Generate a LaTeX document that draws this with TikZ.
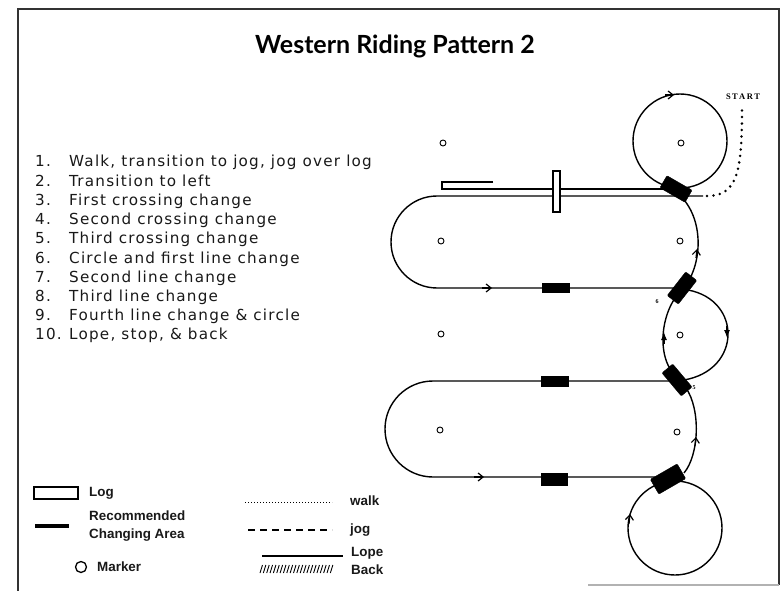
\documentclass[tikz,border=0pt]{standalone}
\usepackage{fontspec}
\setmainfont{DejaVu Sans}
\newfontfamily\listfont[LetterSpace=8]{DejaVu Sans}
\newfontfamily\titlefont{Lato}
\newfontfamily\legfont{Liberation Sans}
\newfontfamily\startfont{Liberation Serif}
\usetikzlibrary{arrows.meta,calc}
\tikzset{
  track/.style={line width=1.4pt, black},
  chbox/.style={fill=black, draw=black, minimum width=#1, minimum height=14pt, inner sep=0pt, rounded corners=1pt},
  flatbox/.style={fill=black, draw=black, minimum width=27pt, minimum height=9pt, inner sep=0pt},
  markr/.style={circle, draw=black, line width=0.9pt, minimum size=6pt, inner sep=0pt},
  vtip/.style={-{Straight Barb[length=5pt,width=8pt,line width=1.2pt]}, line width=1.2pt},
  ftip/.style={-{Latex[length=8pt,width=6pt]}, line width=1.2pt},
  listtext/.style={anchor=base west, font=\listfont\fontsize{15.2}{17}\selectfont, text=black!90, inner sep=0pt},
  legtext/.style={anchor=west, font=\legfont\bfseries\fontsize{13.4}{15}\selectfont, inner sep=0pt, text=black!90}
}
\begin{document}
\begin{tikzpicture}[x=1pt,y=-1pt]
\useasboundingbox (0,0) rectangle (782,591);
\fill[white] (0,0) rectangle (782,591);

% frame
\draw[line width=2pt, black!80] (18,591) -- (18,9) -- (779,9) -- (779,585);
\draw[line width=1.2pt, black!30] (588,585) -- (779,585);

% title
\node[font=\titlefont\bfseries\fontsize{25}{27}\selectfont] (title) at (395,46) {Western Riding Pattern 2};

% list
\foreach \n/\t [count=\i from 0] in {1./{Walk, transition to jog, jog over log},
  2./{Transition to left}, 3./{First crossing change}, 4./{Second crossing change},
  5./{Third crossing change}, 6./{Circle and first line change}, 7./{Second line change},
  8./{Third line change}, 9./{Fourth line change \& circle}, 10./{Lope, stop, \& back}} {
  \node[listtext] (num\i) at (35,{167+19.2*\i}) {\n};
  \node[listtext] (item\i) at (69,{167+19.2*\i}) {\t};
}

% ---------- pattern ----------
% upper loop
\draw[track] (703,196) -- (437,196) arc[start angle=270, end angle=90, radius=46] -- (684,288);
\draw[track] (684,288) .. controls (704,262) and (704,214) .. (676,192);
% log (small, left) and upper line
\draw[line width=1.1pt] (493,182) -- (442,182) -- (442,189) -- (668,189);
% top circle
\draw[track] (680,141) circle[radius=47];
% walk (dotted) to start
\draw[line width=2.8pt, dash pattern=on 0pt off 6.5pt, line cap=round] (707,196) .. controls (738,196) and (742,170) .. (742,108);
\node[font=\startfont\bfseries\fontsize{8.5}{9}\selectfont, inner sep=0pt] (start) at (743,97) {S\,T\,A\,R\,T};

% middle teardrop circle
\draw[track] (688,290) .. controls (742,300) and (742,370) .. (684,380);
\draw[track] (678,378) .. controls (655,360) and (660,310) .. (682,290);

% second loop
\draw[track] (676,381) -- (433,381) arc[start angle=270, end angle=90, radius=48] -- (660,477);
\draw[track] (684,473) .. controls (699,455) and (701,410) .. (686,388);

% bottom circle
\draw[track] (675,528) circle[radius=47];

% vertical log
\draw[line width=1.1pt, fill=white] (553,171) rectangle (560,212);

% changing areas
\node[flatbox] (ca1) at (556,288) {};
\node[flatbox, minimum height=10pt] (ca2) at (555,381) {};
\node[flatbox, minimum height=12pt, minimum width=26pt] (ca3) at (554,479) {};
\node[chbox=29pt, rotate=-30] (cb1) at (676,189) {};
\node[chbox=30pt, rotate=52] (cb2) at (682,288) {};
\node[chbox=30pt, rotate=-50] (cb3) at (677,380) {};
\node[chbox=31pt, minimum height=17pt, rotate=30] (cb4) at (668,479) {};

% markers
\foreach \x/\y [count=\k] in {443/143, 681/143, 441/241, 680/241, 441/334, 680/335, 440/430, 677/432}
  \node[markr] (m\k) at (\x,\y) {};

% small number labels
\node[font=\startfont\bfseries\fontsize{6}{7}\selectfont, inner sep=0pt] (l6) at (657,302) {6};
\node[font=\startfont\bfseries\fontsize{6}{7}\selectfont, inner sep=0pt] (l5) at (694,388) {5};

% direction arrows
\draw[vtip] (665,95) -- (674,95);
\draw[vtip] (482,288) -- (492,288);
\draw[vtip] (696,258) -- (697,249);
\draw[ftip] (664,344) -- (664,332);
\draw[ftip] (727,326) -- (727,338);
\draw[vtip] (474,477) -- (484,477);
\draw[vtip] (695,446) -- (696,437);
\draw[vtip] (629,524) -- (630,514);

% ---------- legend ----------
\draw[line width=1.3pt] (34,487) rectangle (78,499);
\node[legtext] (lg1) at (89,493) {Log};
\draw[line width=4pt] (35,526) -- (69,526);
\node[legtext] (lg2) at (89,516) {Recommended};
\node[legtext] (lg3) at (89,535) {Changing Area};
\node[circle, draw, line width=1.3pt, minimum size=11pt, inner sep=0pt] (lgm) at (81,567) {};
\node[legtext] (lg4) at (97,567) {Marker};

\draw[line width=1pt, dash pattern=on 1.2pt off 1.8pt] (245,502) -- (332,502);
\node[legtext] (lw) at (350,501) {walk};
\draw[line width=1.5pt, dash pattern=on 7pt off 5pt] (248,530) -- (332,530);
\node[legtext] (lj) at (350,530) {jog};
\draw[line width=1.5pt] (262,556) -- (343,556);
\node[legtext] (ll) at (351,553) {Lope};
\foreach \i in {0,...,21} \draw[line width=0.9pt] ({260+3.35*\i},573) -- ({262.5+3.35*\i},565);
\node[legtext] (lb) at (351,570) {Back};
\end{tikzpicture}
\end{document}
